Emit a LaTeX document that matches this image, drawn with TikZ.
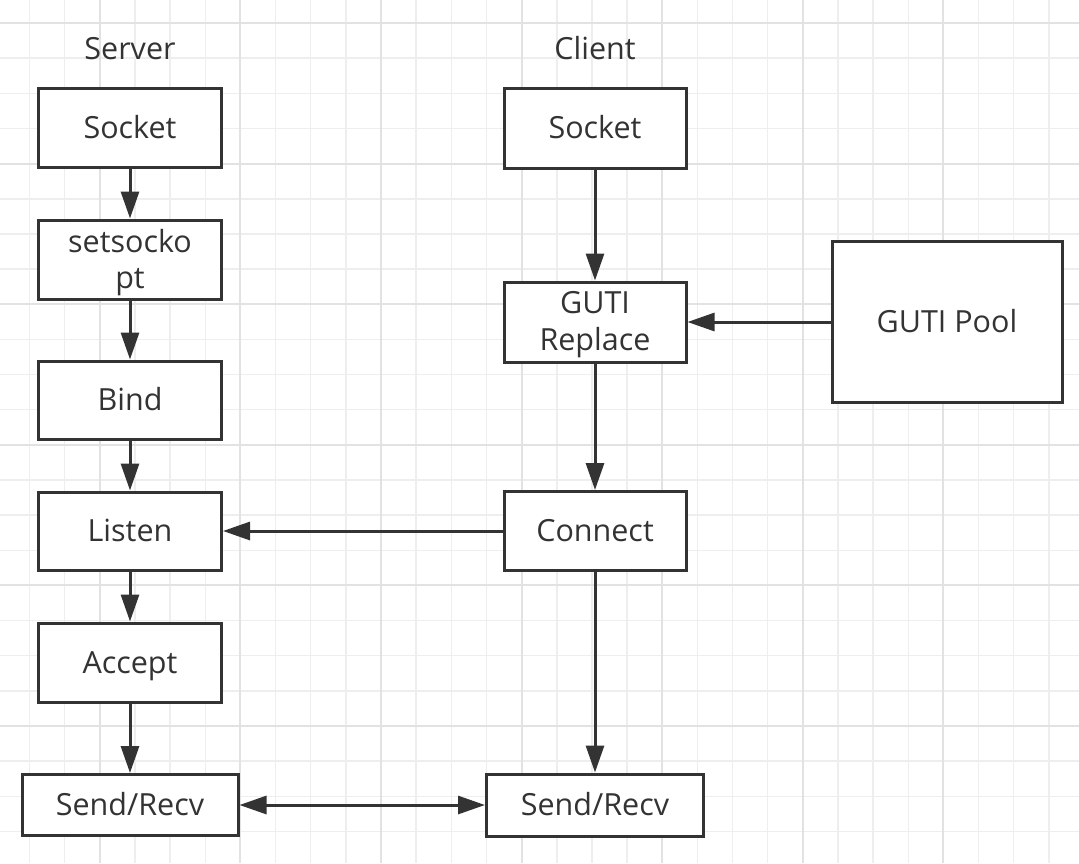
\documentclass[tikz,border=0pt]{standalone}
\usepackage{fontspec}
\setmainfont{Open Sans}
\usetikzlibrary{arrows.meta}
\definecolor{ink}{HTML}{333333}
\definecolor{gridminor}{HTML}{EEEEEE}
\definecolor{gridmajor}{HTML}{E2E2E2}
\tikzset{
  box/.style={draw=ink, line width=3pt, fill=white, rectangle, inner sep=0pt,
    text=ink, font=\fontsize{30.5}{36}\selectfont, text height=21pt, text depth=0pt},
  txt/.style={text=ink, font=\fontsize{30.5}{36}\selectfont, inner sep=0pt},
  conn/.style={draw=ink, line width=3pt, -{Triangle[length=27pt,width=18pt]}},
  conntwo/.style={draw=ink, line width=3pt, {Triangle[length=27pt,width=18pt]}-{Triangle[length=27pt,width=18pt]}}
}
\begin{document}
\begin{tikzpicture}[x=1pt,y=-1pt]
\useasboundingbox (0,0) rectangle (1079,863);
\fill[white] (0,0) rectangle (1079,863);
% grid
\foreach \k in {0,...,29}{
  \pgfmathsetmacro\xx{29.5+35.15*\k}
  \draw[gridminor, line width=1.5pt] (\xx,0) -- (\xx,863);
}
\foreach \k in {0,...,23}{
  \pgfmathsetmacro\yy{23+35.15*\k}
  \draw[gridminor, line width=1.5pt] (0,\yy) -- (1079,\yy);
}
\foreach \k in {2,6,...,26}{
  \pgfmathsetmacro\xx{29.5+35.15*\k}
  \draw[gridmajor, line width=2pt] (\xx,0) -- (\xx,863);
}
\foreach \k in {0,4,...,20}{
  \pgfmathsetmacro\yy{23+35.15*\k}
  \draw[gridmajor, line width=2pt] (0,\yy) -- (1079,\yy);
}
% titles
\node[txt, anchor=base] (lServer) at (130,59) {Server};
\node[txt, anchor=base] (lClient) at (595,59) {Client};
% server column
\node[box, minimum width=183pt, minimum height=79pt] (sSocket) at (130,127.5) {Socket};
\node[box, minimum width=183pt, minimum height=79pt] (sSet) at (130,259.5) {};
\node[txt, anchor=base] (sSetA) at (130,252) {setsocko};
\node[txt, anchor=base] (sSetB) at (130,288) {pt};
\node[box, minimum width=183pt, minimum height=78pt] (sBind) at (130,400) {Bind};
\node[box, minimum width=183pt, minimum height=78pt] (sListen) at (130,531) {Listen};
\node[box, minimum width=183pt, minimum height=79pt] (sAccept) at (130,662.5) {Accept};
\node[box, minimum width=216pt, minimum height=61pt] (sSend) at (130,805) {Send/Recv};
% client column
\node[box, minimum width=182pt, minimum height=80pt] (cSocket) at (595,128) {Socket};
\node[box, minimum width=182pt, minimum height=80pt] (cGuti) at (595,322) {};
\node[txt, anchor=base] (cGutiA) at (595,313.5) {GUTI};
\node[txt, anchor=base] (cGutiB) at (595,350) {Replace};
\node[box, minimum width=182pt, minimum height=79pt] (cConnect) at (595,531) {Connect};
\node[box, minimum width=217pt, minimum height=62pt] (cSend) at (595,805) {Send/Recv};
\node[box, minimum width=230pt, minimum height=161pt] (cPool) at (947,322) {GUTI Pool};
% connectors
\draw[conn] (sSocket) -- (sSet);
\draw[conn] (sSet) -- (sBind);
\draw[conn] (sBind) -- (sListen);
\draw[conn] (sListen) -- (sAccept);
\draw[conn] (sAccept) -- (sSend);
\draw[conn] (cSocket) -- (cGuti);
\draw[conn] (cGuti) -- (cConnect);
\draw[conn] (cConnect) -- (cSend);
\draw[conn] (cPool) -- (cGuti);
\draw[conn] (cConnect) -- (sListen);
\draw[conntwo] (sSend) -- (cSend);
\end{tikzpicture}
\end{document}
